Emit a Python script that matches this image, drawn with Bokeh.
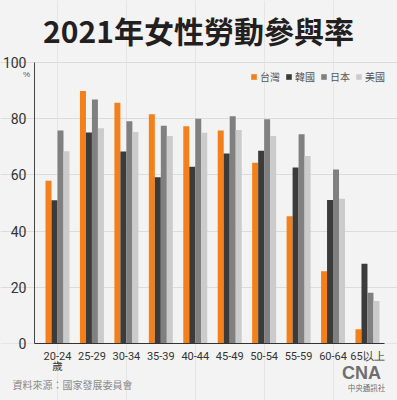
from bokeh.plotting import figure
from bokeh.models import Range1d, FixedTicker, Legend, LegendItem, Label, ColumnDataSource, LinearAxis, Grid
from bokeh.embed import file_html
from bokeh.resources import INLINE

ages = ["20-24", "25-29", "30-34", "35-39", "40-44", "45-49", "50-54", "55-59", "60-64", "65以上"]
series_names = ["台灣", "韓國", "日本", "美國"]
taiwan = [57.9, 89.9, 85.7, 81.6, 77.3, 75.8, 64.3, 45.3, 25.7, 5.1]
korea = [51.0, 75.1, 68.3, 59.2, 62.9, 67.6, 68.6, 62.6, 51.1, 28.4]
japan = [75.8, 86.8, 79.1, 77.5, 80.0, 80.9, 79.8, 74.5, 61.9, 18.1]
usa = [68.4, 76.6, 75.3, 73.8, 75.0, 76.0, 73.8, 66.7, 51.5, 15.1]
y_ticks = [0, 20, 40, 60, 80, 100]

colors = ["#f3801a", "#3b3b3b", "#808080", "#cbcbcb"]
BG = "#f3f3f3"
CJK = "Noto Sans CJK TC"
NUM = "Roboto"

X0, X1 = -0.668, 9.49   # axis extent (categories 0..9)
p = figure(width=397, height=400, output_backend="svg", toolbar_location=None,
           x_range=Range1d(-1.655, 9.872), y_range=Range1d(-20.28, 122.06),
           min_border_left=0, min_border_right=0, min_border_top=0, min_border_bottom=0,
           x_axis_location=None, y_axis_location=None)
p.background_fill_color = BG
p.border_fill_color = BG
p.outline_line_color = None

idx = list(range(len(ages)))
offsets = [-0.261, -0.087, 0.087, 0.261]
bw = 0.174
items = []
for vals, off, col, name in zip([taiwan, korea, japan, usa], offsets, colors, series_names):
    src = ColumnDataSource(dict(x=[i + off for i in idx], top=vals))
    r = p.vbar(x="x", top="top", width=bw, bottom=0, source=src, fill_color=col, line_color=None)
    items.append(LegendItem(label=name, renderers=[r]))

leg = Legend(items=items, orientation="horizontal", location=(250, 316))
leg.background_fill_alpha = 0
leg.border_line_color = None
leg.label_text_font = CJK
leg.label_text_font_size = "10px"
leg.label_text_color = "#555555"
leg.glyph_width = 7
leg.glyph_height = 7
leg.label_standoff = 3
leg.spacing = 5
leg.padding = 4
leg.margin = 0
leg.label_height = 12
p.add_layout(leg)

yaxis = LinearAxis(ticker=FixedTicker(ticks=y_ticks), fixed_location=X0, bounds=(0, 100))
yaxis.major_tick_line_color = None
yaxis.minor_tick_line_color = None
yaxis.axis_line_color = "#444444"
yaxis.major_label_text_font = NUM
yaxis.major_label_text_font_size = "14px"
yaxis.major_label_text_color = "#333333"
yaxis.major_label_standoff = 2
p.add_layout(yaxis, "left")

xaxis = LinearAxis(ticker=FixedTicker(ticks=idx), fixed_location=0, bounds=(X0, X1))
xaxis.major_label_overrides = {i: a for i, a in zip(idx, ages)}
xaxis.major_tick_line_color = None
xaxis.minor_tick_line_color = None
xaxis.axis_line_color = "#333333"
xaxis.major_label_text_font = NUM
xaxis.major_label_text_font_size = "11px"
xaxis.major_label_text_color = "#333333"
xaxis.major_label_standoff = 0
p.add_layout(xaxis, "below")

grid = Grid(dimension=1, ticker=FixedTicker(ticks=[20, 40, 60, 80, 100]), bounds=(X0, X1),
            grid_line_color="#dcdcdc")
p.add_layout(grid)

# title and annotations
p.add_layout(Label(x=4.094, y=111.4, text="2021年女性勞動參與率", text_font=CJK,
                   text_font_size="30px", text_font_style="bold", text_color="#231f20",
                   text_align="center", text_baseline="middle"))
p.add_layout(Label(x=-0.900, y=95.9, text="%", text_font_size="8px", text_color="#555555",
                   text_align="center", text_baseline="middle"))
p.add_layout(Label(x=0, y=-8.0, text="歲", text_font=CJK, text_font_size="10.5px",
                   text_color="#333333", text_align="center", text_baseline="middle"))
p.add_layout(Label(x=-1.307, y=-14.59, text="資料來源：國家發展委員會", text_font=CJK,
                   text_font_size="10px", text_color="#8a8a8a", text_align="left",
                   text_baseline="middle"))
p.add_layout(Label(x=8.827, y=-10.32, text="CNA", text_font="Liberation Sans",
                   text_font_size="18px", text_font_style="bold", text_color="#6e6e6e",
                   text_align="center", text_baseline="middle"))
p.add_layout(Label(x=8.972, y=-15.66, text="中央通訊社", text_font=CJK, text_font_size="7.5px",
                   text_color="#6e6e6e", text_align="center", text_baseline="middle"))

open("out.html", "w").write(file_html(p, INLINE).replace("<body>", '<body style="background:#f3f3f3">'))
